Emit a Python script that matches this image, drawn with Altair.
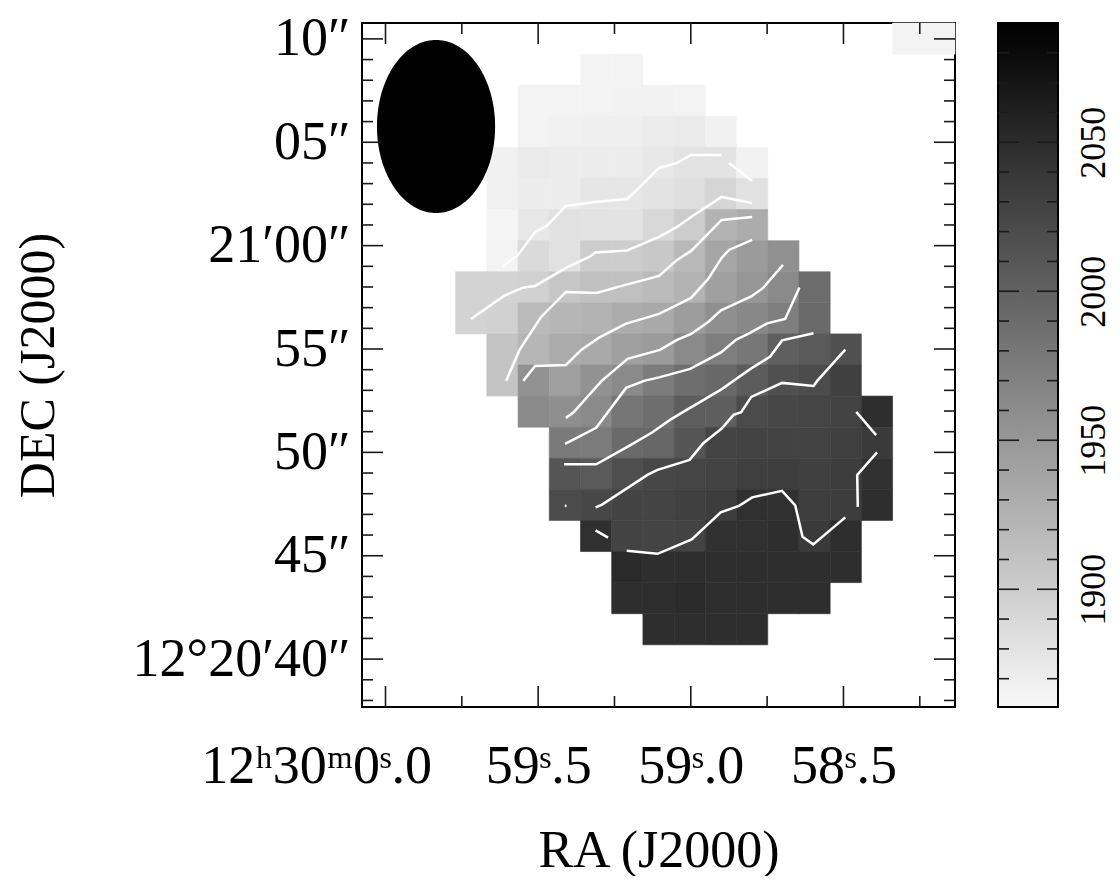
import math
import altair as alt
import pandas as pd

# ---------------- map header (RA in seconds of 12h29m, Dec offset in arcsec from 12d21m00s)
RA_LEFT = 60.0770      # RA (s) of left map edge
CELL_RA = 0.10223      # pixel size in RA seconds
DEC_TOP = 10.769       # Dec offset (") of top map edge
CELL_DEC = 1.5039      # pixel size in arcsec
N_COL, N_ROW = 19, 22
DEC_DEG = 12.35

VMIN, VMAX = 1860.5, 2090.0
GRAY_LO, GRAY_HI = "#f8f8f8", "#000000"

# ---------------- velocity field (km/s): (first column, values) per row, top to bottom
row_start = [17, 7, 5, 5, 4, 4, 4, 4, 3, 3, 4, 4, 5, 6, 6, 6, 7, 8, 8, 9]
row_values = [
    [1865, 1865],
    [1865, 1865],
    [1865, 1865, 1865, 1866, 1866, 1865],
    [1865, 1868, 1869, 1869, 1872, 1873, 1867],
    [1867, 1873, 1872, 1872, 1872, 1875, 1880, 1880, 1866],
    [1868, 1872, 1872, 1877, 1877, 1880, 1884, 1893, 1882],
    [1863, 1875, 1882, 1880, 1880, 1890, 1901, 1924, 1931],
    [1865, 1888, 1882, 1900, 1900, 1905, 1919, 1936, 1947, 1957],
    [1895, 1895, 1897, 1907, 1912, 1912, 1917, 1924, 1942, 1951, 1962, 1990],
    [1895, 1897, 1918, 1922, 1924, 1931, 1934, 1945, 1958, 1964, 1973, 1992],
    [1909, 1922, 1932, 1934, 1942, 1947, 1962, 1973, 1980, 2002, 2007, 2016],
    [1909, 1955, 1942, 1955, 1962, 1975, 1988, 1994, 2005, 2016, 2020, 2031],
    [1962, 1958, 1962, 1981, 1988, 2004, 2003, 2021, 2024, 2026, 2028, 2047],
    [1977, 1976, 1992, 1995, 2011, 2027, 2028, 2028, 2028, 2031, 2036],
    [2011, 2007, 2018, 2024, 2026, 2028, 2032, 2033, 2031, 2034, 2046],
    [2021, 2024, 2028, 2027, 2031, 2034, 2046, 2046, 2033, 2034, 2047],
    [2046, 2028, 2027, 2028, 2045, 2045, 2047, 2036, 2047],
    [2051, 2047, 2047, 2047, 2047, 2047, 2047, 2047],
    [2047, 2047, 2051, 2047, 2047, 2047, 2047],
    [2047, 2047, 2047, 2047],
]

# ---------------- white contour lines: (RA s, Dec ")
contours = {
    "A": [(59.618, -1.030), (59.566, -0.450), (59.510, 0.662), (59.472, 0.953), (59.409, 1.920),
          (59.314, 2.113), (59.209, 2.258), (59.176, 2.693), (59.104, 3.757), (59.045, 3.999),
          (58.999, 4.386), (58.899, 4.386)],
    "A2": [(58.875, 3.999), (58.799, 3.129)],
    "B": [(59.720, -3.545), (59.612, -2.432), (59.548, -2.021), (59.510, -1.949), (59.409, -1.078),
          (59.333, -0.546), (59.312, -0.329), (59.209, -0.232), (59.104, 0.421), (59.045, 0.904),
          (58.999, 1.388), (58.899, 2.355), (58.799, 2.065)],
    "C": [(59.605, -6.543), (59.561, -5.044), (59.490, -3.448), (59.409, -2.239), (59.309, -2.287),
          (59.214, -1.900), (59.104, -1.465), (59.045, -0.691), (58.999, -0.256), (58.899, 1.243),
          (58.799, 1.388)],
    "D": [(59.549, -6.543), (59.510, -5.817), (59.409, -5.769), (59.359, -5.044), (59.302, -4.463),
          (59.214, -3.786), (59.104, -3.303), (58.999, -2.529), (58.943, -1.610), (58.899, -0.595),
          (58.875, -0.208), (58.799, 0.276)],
    "E": [(59.409, -8.332), (59.384, -8.066), (59.292, -6.543), (59.207, -5.479), (59.101, -5.044),
          (59.045, -4.560), (58.999, -4.270), (58.943, -3.690), (58.901, -3.133), (58.802, -2.456),
          (58.763, -2.045), (58.698, -0.933)],
    "F": [(59.412, -9.589), (59.310, -8.815), (59.212, -6.881), (59.153, -6.543), (59.104, -6.373),
          (59.002, -5.962), (58.901, -5.164), (58.852, -4.560), (58.806, -4.222), (58.750, -3.762),
          (58.691, -3.545), (58.644, -2.021)],
    "G": [(59.415, -10.580), (59.310, -10.580), (59.202, -9.686), (59.127, -9.038), (59.068, -8.428),
          (59.019, -7.993), (58.897, -6.929), (58.861, -6.543), (58.802, -5.938), (58.740, -5.368),
          (58.701, -4.584), (58.598, -4.236)],
    "H": [(59.312, -12.660), (59.292, -12.539), (59.142, -11.088), (59.109, -10.846), (59.004, -10.363),
          (58.959, -9.555), (58.899, -8.844), (58.860, -8.187), (58.835, -8.061), (58.802, -7.316),
          (58.701, -6.639), (58.598, -6.784), (58.586, -6.543), (58.494, -5.029)],
    "I1": [(58.458, -8.042), (58.393, -9.163)],
    "I2": [(58.390, -10.000), (58.455, -11.088), (58.453, -12.636)],
    "J": [(59.210, -14.763), (59.109, -14.908), (58.997, -14.207), (58.902, -12.901), (58.842, -12.587),
          (58.799, -12.176), (58.701, -11.862), (58.658, -12.563), (58.634, -14.086), (58.599, -14.449),
          (58.494, -13.143)],
    "J2": [(59.312, -13.772), (59.271, -14.120)],
    "dot": [(59.413, -12.587), (59.407, -12.587)],
}

# ---------------- beam (arcsec)
beam_center = (59.8345, 5.764)
beam_major = 8.37   # N-S FWHM
beam_minor = 5.67   # E-W FWHM

# ---------------- ticks and labels
ra_major = [60.0, 59.5, 59.0, 58.5]
ra_labels = ["12ʰ30ᵐ0ˢ.0", "59ˢ.5", "59ˢ.0", "58ˢ.5"]
ra_minor = [59.75, 59.25, 58.75, 58.25]
dec_major = [10, 5, 0, -5, -10, -15, -20]
dec_labels = ["10″", "05″", "21′00″", "55″", "50″", "45″", "12°20′40″"]
dec_minor = [9, 8, 7, 6, 4, 3, 2, 1, -1, -2, -3, -4, -6, -7, -8, -9, -11, -12, -13, -14,
             -16, -17, -18, -19, -21, -22]
vel_major = [1900, 1950, 2000, 2050]
vel_minor = [1870, 1880, 1890, 1910, 1920, 1930, 1940, 1960, 1970, 1980, 1990,
             2010, 2020, 2030, 2040, 2060, 2070, 2080]

# ---------------- build tables
cells = []
for r, (c0, vals) in enumerate(zip(row_start, row_values)):
    for k, v in enumerate(vals):
        c = c0 + k
        cells.append({
            "xa": RA_LEFT - c * CELL_RA, "xb": RA_LEFT - (c + 1) * CELL_RA,
            "ya": DEC_TOP - r * CELL_DEC, "yb": DEC_TOP - (r + 1) * CELL_DEC, "v": v,
        })
cell_df = pd.DataFrame(cells)

cont_rows = []
for name, pts in contours.items():
    for k, (x, y) in enumerate(pts):
        cont_rows.append({"id": name, "k": k, "x": x, "y": y})
cont_df = pd.DataFrame(cont_rows)

sec_per_arcsec = 1.0 / (15.0 * math.cos(math.radians(DEC_DEG)))
a_s = beam_minor / 2.0 * sec_per_arcsec
b = beam_major / 2.0
beam_rows = []
N = 90
for i in range(N + 1):
    th = math.pi * i / N
    beam_rows.append({
        "x": beam_center[0] + a_s * math.cos(th),
        "lo": beam_center[1] - b * math.sin(th),
        "hi": beam_center[1] + b * math.sin(th),
    })
beam_df = pd.DataFrame(beam_rows)


def label_expr(values, labels):
    expr = "''"
    for v, l in reversed(list(zip(values, labels))):
        expr = f"datum.value == {v} ? '{l}' : {expr}"
    return expr


W, H = 593, 684
FONT = "Liberation Serif"
TICK_COL = "#1a1a1a"
LONG, SHORT = 21, 11

xs = alt.Scale(domain=[RA_LEFT - N_COL * CELL_RA, RA_LEFT], reverse=True, nice=False, zero=False)
ys = alt.Scale(domain=[DEC_TOP - N_ROW * CELL_DEC, DEC_TOP], nice=False, zero=False)
vs = alt.Scale(domain=[VMIN, VMAX], nice=False, zero=False)
cs = alt.Scale(domain=[VMIN, VMAX], range=[GRAY_LO, GRAY_HI], interpolate="rgb")

first_ra = f"datum.value == {ra_major[0]}"
x_axis = alt.Axis(
    values=ra_major, labelExpr=label_expr(ra_major, ra_labels), ticks=False, domain=False,
    grid=False, labelFont=FONT, labelFontSize=54, labelColor="black", labelPadding=32,
    labelAlign={"condition": {"test": first_ra, "value": "right"}, "value": "center"},
    labelOffset={"condition": {"test": first_ra, "value": 46}, "value": 0},
    labelOverlap=False, labelFlush=False, labelLimit=600,
    title="RA (J2000)", titleFont=FONT, titleFontSize=52, titleFontWeight="normal",
    titleColor="black", titleX=W / 2, titleY=143, titleAlign="center", titleBaseline="middle",
    orient="bottom",
)
y_axis = alt.Axis(
    values=dec_major, labelExpr=label_expr(dec_major, dec_labels), ticks=False, domain=False,
    grid=False, labelFont=FONT, labelFontSize=54, labelColor="black", labelPadding=12,
    labelOverlap=False, labelFlush=False, labelLimit=600,
    title="DEC (J2000)", titleFont=FONT, titleFontSize=50, titleFontWeight="normal",
    titleColor="black", titleX=-324, titleY=H / 2, titleAlign="center", titleBaseline="middle",
    titleAngle=270, orient="left",
)
v_axis = alt.Axis(
    values=vel_major, ticks=False, domain=False, grid=False, format="d",
    labelFont=FONT, labelFontSize=36, labelColor="black", labelAngle=270,
    labelAlign="center", labelBaseline="middle", labelPadding=138,
    labelOverlap=False, labelFlush=False, labelLimit=600, title=None, orient="right",
)

cell_layer = alt.Chart(cell_df).mark_rect(strokeWidth=0.6).encode(
    x=alt.X("xa:Q", scale=xs, axis=x_axis), x2="xb:Q",
    y=alt.Y("ya:Q", scale=ys, axis=y_axis), y2="yb:Q",
    color=alt.Color("v:Q", scale=cs, legend=None),
    stroke=alt.Stroke("v:Q", scale=cs, legend=None),
)

beam_layer = alt.Chart(beam_df).mark_area(color="black", orient="vertical").encode(
    x=alt.X("x:Q", scale=xs),
    y=alt.Y("lo:Q", scale=ys, axis=None), y2="hi:Q",
)

contour_layer = alt.Chart(cont_df).mark_line(color="white", strokeWidth=2.5).encode(
    x=alt.X("x:Q", scale=xs),
    y=alt.Y("y:Q", scale=ys, axis=None),
    detail="id:N", order="k:Q",
)


def xticks(vals, y0, y1):
    return alt.Chart(pd.DataFrame({"t": vals})).mark_rule(color=TICK_COL, strokeWidth=1.6).encode(
        x=alt.X("t:Q", scale=xs), y=alt.value(y0), y2=alt.value(y1))


def yticks(vals, x0, x1):
    return alt.Chart(pd.DataFrame({"t": vals})).mark_rule(color=TICK_COL, strokeWidth=1.6).encode(
        y=alt.Y("t:Q", scale=ys, axis=None), x=alt.value(x0), x2=alt.value(x1))


CB_L, CB_R = 636, 696
gradient = alt.LinearGradient(
    gradient="linear", x1=0, y1=1, x2=0, y2=0,
    stops=[alt.GradientStop(color=GRAY_LO, offset=0), alt.GradientStop(color=GRAY_HI, offset=1)],
)
cbar_rect = alt.Chart(pd.DataFrame({"lo": [VMIN], "hi": [VMAX]})).mark_rect(
    fill=gradient, stroke="black", strokeWidth=2).encode(
    y=alt.Y("lo:Q", scale=vs, axis=v_axis), y2="hi:Q",
    x=alt.value(CB_L), x2=alt.value(CB_R),
)


def vticks(vals, x0, x1):
    return alt.Chart(pd.DataFrame({"t": vals})).mark_rule(color=TICK_COL, strokeWidth=1.6).encode(
        y=alt.Y("t:Q", scale=vs, axis=None), x=alt.value(x0), x2=alt.value(x1))


chart = alt.layer(
    cell_layer, beam_layer, contour_layer,
    xticks(ra_major, 0, LONG), xticks(ra_minor, 0, SHORT),
    xticks(ra_major, H, H - LONG), xticks(ra_minor, H, H - SHORT),
    yticks(dec_major, 0, LONG), yticks(dec_minor, 0, SHORT),
    yticks(dec_major, W, W - LONG), yticks(dec_minor, W, W - SHORT),
    cbar_rect,
    vticks(vel_major, CB_L, CB_L + LONG), vticks(vel_minor, CB_L, CB_L + SHORT),
    vticks(vel_major, CB_R, CB_R - LONG), vticks(vel_minor, CB_R, CB_R - SHORT),
).resolve_scale(y="independent").properties(
    width=W, height=H,
    autosize=alt.AutoSizeParams(type="none"),
    padding={"left": 354, "top": 15, "right": 157, "bottom": 169},
    background="white",
).configure_view(stroke="black", strokeWidth=2)

chart.save("out.html", embed_options={"renderer": "svg", "actions": False})
